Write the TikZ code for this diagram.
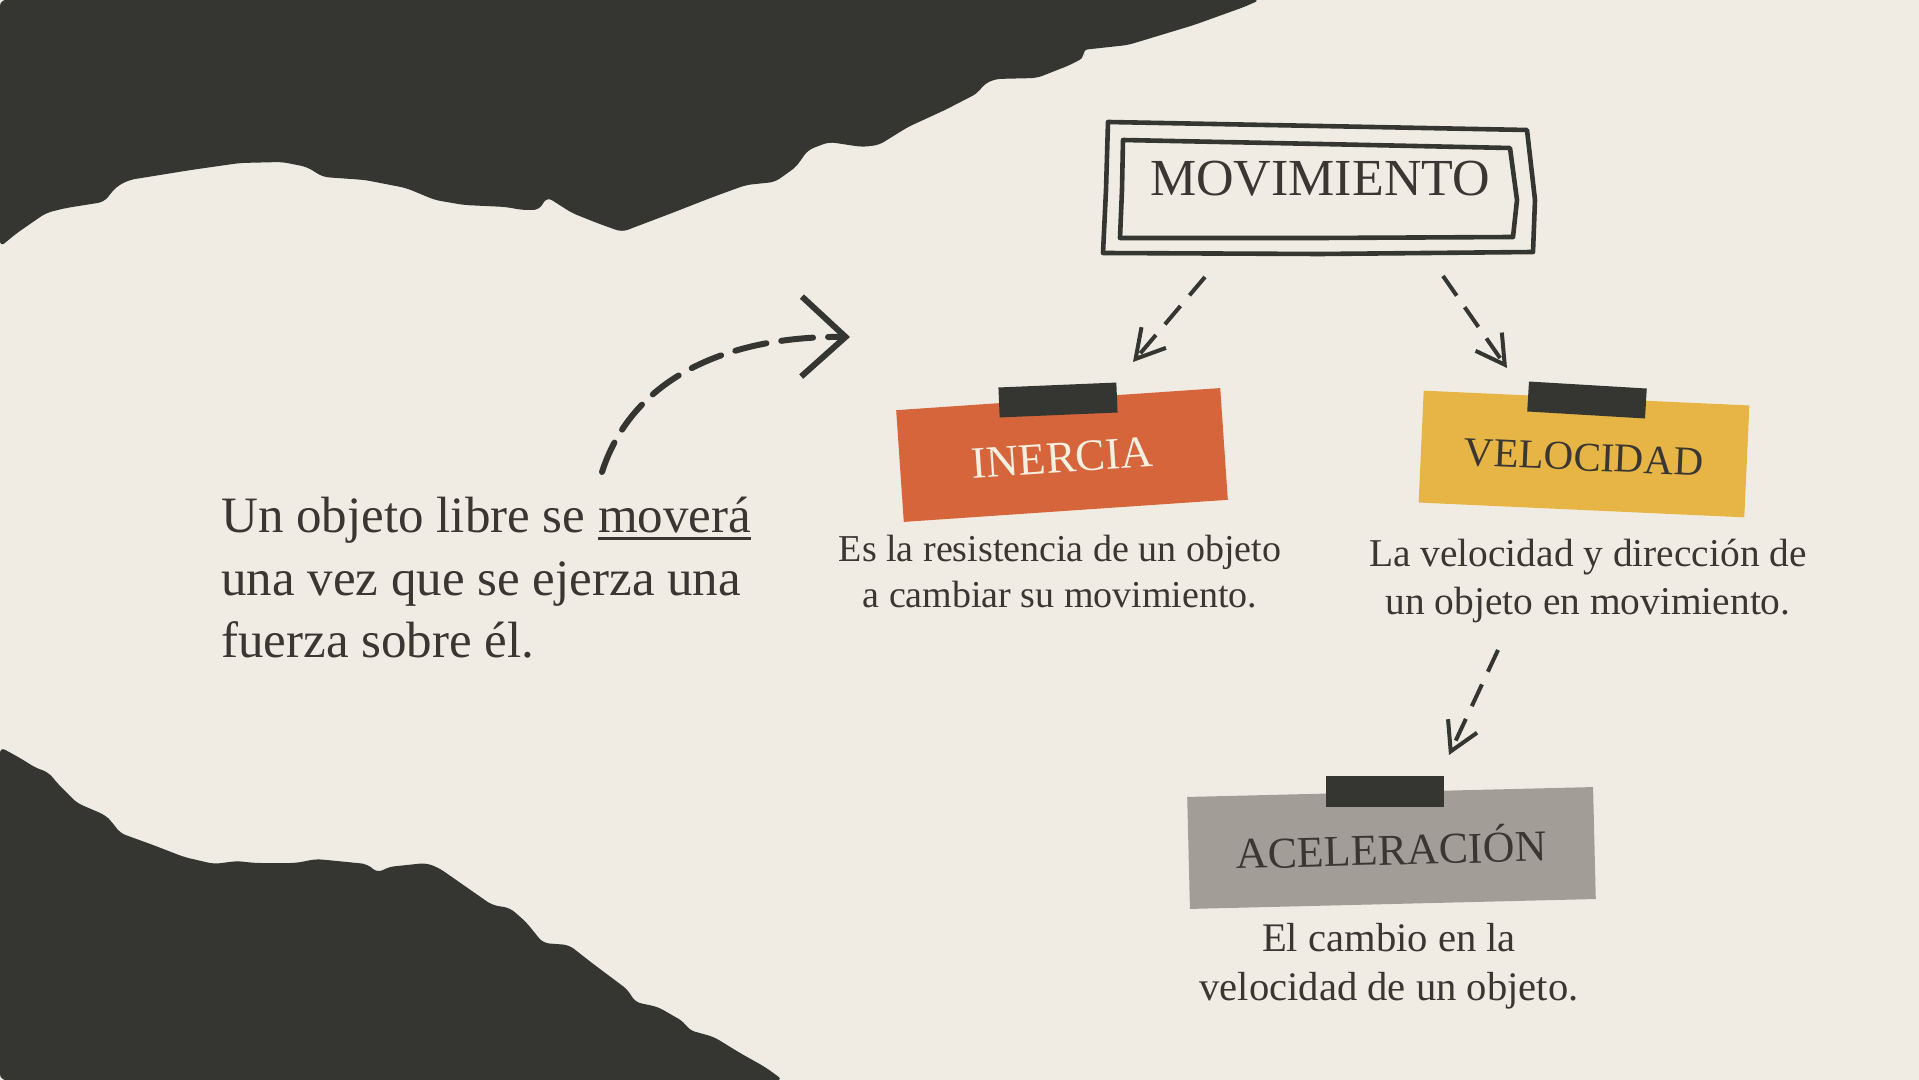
\documentclass[tikz,border=0pt]{standalone}
\usepackage{fontspec}
\setmainfont{Liberation Serif}
\usetikzlibrary{arrows.meta}
\definecolor{bg}{HTML}{F0ECE3}
\definecolor{ink}{HTML}{353531}
\definecolor{txt}{HTML}{3A3733}
\definecolor{orng}{HTML}{D6653C}
\definecolor{yell}{HTML}{E6B545}
\definecolor{gry}{HTML}{A29D96}
\definecolor{cream}{HTML}{F7EFDF}
\newcommand\myul[1]{{\setbox0\hbox{#1}\rlap{\rule[-3.6pt]{\wd0}{1.6pt}}\box0}}
\begin{document}
\begin{tikzpicture}[x=0.5pt,y=-0.5pt,
  torn/.style={fill=ink, rounded corners=3pt},
  frame/.style={draw=ink, line width=2.3pt, line join=round},
  card/.style={inner sep=0pt, minimum height=56pt, text depth=0pt},
  tape/.style={fill=ink, inner sep=0pt, minimum width=59pt, minimum height=15pt},
  desc/.style={text=txt, align=center, inner sep=0pt},
  dasharrow/.style={draw=ink, line width=2pt, dash pattern=on 12pt off 7pt,
     -{Straight Barb[length=14pt,width=16pt,line width=2pt]}},
]
\useasboundingbox (0,0) rectangle (1919,1080);
\fill[bg] (0,0) rectangle (1919,1080);

% torn dark shapes
\fill[torn] (0,0) -- (1260,0) -- (1244,7) -- (1194,25) -- (1161,35) -- (1128,45) -- (1082,50)
  -- (1085,57) -- (1070,65) -- (1037,78) -- (995,79) -- (983,85) -- (978,93) -- (945,110)
  -- (908,127) -- (879,145) -- (862,147) -- (829,142) -- (808,150) -- (796,167) -- (775,182)
  -- (746,185) -- (713,197) -- (672,213) -- (622,232) -- (597,223) -- (572,213) -- (547,197)
  -- (539,210) -- (522,210) -- (506,207) -- (464,205) -- (435,200) -- (406,188) -- (365,180)
  -- (323,177) -- (307,167) -- (282,162) -- (240,163) -- (191,170) -- (129,180) -- (116,187)
  -- (104,202) -- (66,208) -- (46,213) -- (17,233) -- (0,247) -- cycle;
\fill[torn] (0,747) -- (20,758) -- (36,768) -- (48,772) -- (59,785) -- (77,803) -- (105,815)
  -- (112,822) -- (120,833) -- (153,845) -- (184,857) -- (214,864) -- (237,861) -- (255,863)
  -- (296,863) -- (316,859) -- (337,861) -- (367,864) -- (378,873) -- (388,867) -- (426,863)
  -- (439,868) -- (492,905) -- (510,908) -- (526,922) -- (543,943) -- (569,945) -- (592,963)
  -- (628,990) -- (635,1002) -- (658,1007) -- (684,1022) -- (689,1030) -- (714,1037)
  -- (740,1053) -- (765,1067) -- (783,1080) -- (0,1080) -- cycle;

% title box
\draw[frame] (1108,122) -- (1320,126) -- (1527,130) -- (1535,200) -- (1533,252)
  -- (1320,254) -- (1103,253) -- (1106,190) -- cycle;
\draw[frame] (1123,140) -- (1320,144) -- (1510,148) -- (1517,200) -- (1513,237)
  -- (1320,238) -- (1120,238) -- (1122,190) -- cycle;
\node[inner sep=0pt, text=txt, text height=17.2pt, text depth=0pt,
  font=\fontsize{26}{30}\selectfont] (mov) at (1320,178.5) {MOVIMIENTO};

% cards
\node[card, fill=orng, minimum width=162.4pt, rotate=3.9, text=cream, text height=17.8pt,
  font=\fontsize{22.4}{26}\selectfont] (inercia) at (1062,455) {INERCIA};
\node[tape, rotate=2.4] (tape1) at (1058,400) {};
\node[card, fill=yell, minimum width=163pt, rotate=-2.6, text=txt, text height=16.5pt,
  font=\fontsize{20.5}{24}\selectfont] (velocidad) at (1584,454) {VELOCIDAD};
\node[tape, rotate=-3.4] (tape2) at (1587,400) {};
\node[card, fill=gry, minimum width=203pt, rotate=1.4, text=txt, text height=17pt,
  font=\fontsize{22}{26}\selectfont] (aceleracion) at (1391.5,848) {ACELERACIÓN};
\node[tape, minimum height=15.5pt] (tape3) at (1385,791.5) {};

% descriptions (anchor = baseline of last line)
\node[desc, anchor=base, font=\fontsize{19}{23}\selectfont] (d1) at (1060,608)
  {Es la resistencia de un objeto\\a cambiar su movimiento.};
\node[desc, anchor=base, font=\fontsize{19.7}{24}\selectfont] (d2) at (1588,615)
  {La velocidad y dirección de\\un objeto en movimiento.};
\node[desc, anchor=base, font=\fontsize{20.3}{24.5}\selectfont] (d3) at (1389,1000)
  {El cambio en la\\velocidad de un objeto.};

% left text
\node[text=txt, align=left, inner sep=0pt, anchor=base west,
  font=\fontsize{25.5}{31.25}\selectfont] (intro) at (221,658)
  {Un objeto libre se \myul{moverá}\\una vez que se ejerza una\\fuerza sobre él.};

% connectors
\coordinate (a1s) at (1205,277);
\coordinate (a1e) at (1133,362);
\coordinate (a2s) at (1443,276);
\coordinate (a2e) at (1507,368);
\coordinate (a3s) at (1498,650);
\coordinate (a3e) at (1449,755);
\coordinate (cs) at (602,472);
\coordinate (ce) at (850,337);
\draw[dasharrow] (a1s) -- (a1e);
\draw[dasharrow] (a2s) -- (a2e);
\draw[dasharrow] (a3s) -- (a3e);
\draw[draw=ink, line width=3pt, line cap=round, dash pattern=on 16pt off 7.5pt,
  -{Straight Barb[length=22pt,width=40pt,line width=3pt]}]
  (cs) .. controls (635,370) and (740,336) .. (ce);
\end{tikzpicture}
\end{document}
